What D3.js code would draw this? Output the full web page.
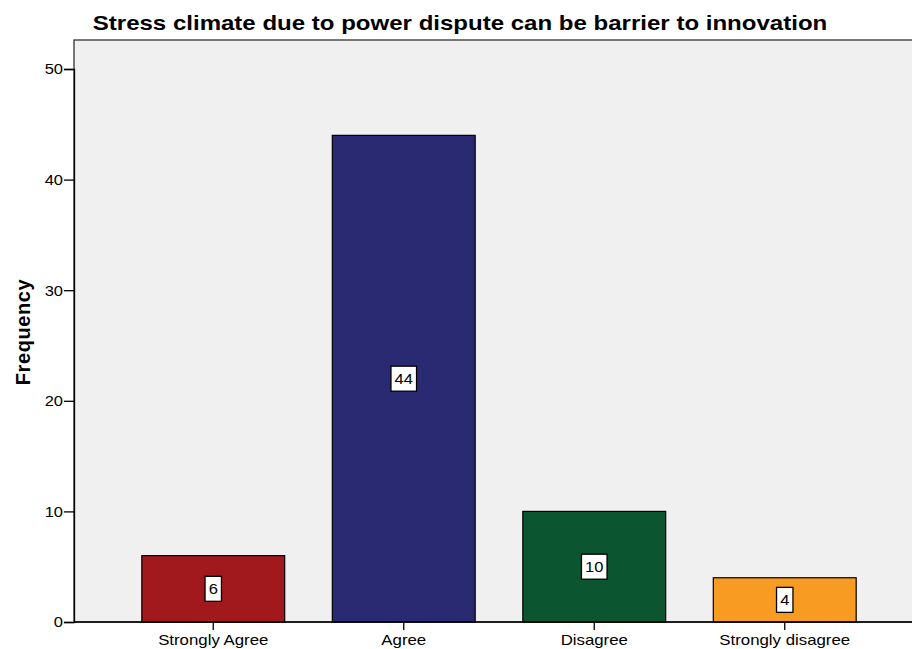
<!DOCTYPE html>
<html>
<head>
<meta charset="utf-8">
<script src="https://cdn.jsdelivr.net/npm/d3@7"></script>
<style>
  html, body { margin: 0; padding: 0; background: #ffffff; }
  svg { display: block; font-family: Arial, "Liberation Sans", sans-serif; }
</style>
</head>
<body>
<svg id="chart" width="912" height="649"></svg>
<script>
// Response categories and their counts
const categories = ["Strongly Agree", "Agree", "Disagree", "Strongly disagree"];
const frequencies = [6, 44, 10, 4];
const barColors = ["#A1191D", "#2A2A73", "#0B5630", "#F89B22"];
const yTicks = [0, 10, 20, 30, 40, 50];
const titleText = "Stress climate due to power dispute can be barrier to innovation";
const yLabelText = "Frequency";

const svg = d3.select("#chart");

// Plot frame
const plot = { left: 74, top: 40, right: 924, bottom: 622 };

const x = d3.scaleBand()
  .domain(categories)
  .range([118, 880])
  .paddingInner(0.25)
  .paddingOuter(0.125);

const y = d3.scaleLinear()
  .domain([0, 50])
  .range([plot.bottom, 69]);

// Plot background
svg.append("rect")
  .attr("x", plot.left)
  .attr("y", plot.top)
  .attr("width", plot.right - plot.left)
  .attr("height", plot.bottom - plot.top)
  .attr("fill", "#F0F0F0")
  .attr("stroke", "#333")
  .attr("stroke-width", 1.3);

// Bars
svg.append("g")
  .selectAll("rect")
  .data(categories)
  .join("rect")
  .attr("x", d => x(d))
  .attr("y", (d, i) => y(frequencies[i]))
  .attr("width", x.bandwidth())
  .attr("height", (d, i) => y(0) - y(frequencies[i]))
  .attr("fill", (d, i) => barColors[i])
  .attr("stroke", "#000")
  .attr("stroke-width", 1.2);

// Y axis
const yAxis = svg.append("g")
  .attr("transform", `translate(${plot.left},0)`)
  .call(d3.axisLeft(y).tickValues(yTicks).tickSize(10).tickPadding(1));
yAxis.select(".domain").attr("stroke", "#000").attr("stroke-width", 1.3);
yAxis.selectAll(".tick line").attr("stroke", "#000").attr("stroke-width", 1.3);
yAxis.selectAll(".tick text")
  .attr("font-size", 15)
  .attr("x", -11 / 1.1)
  .attr("transform", "scale(1.1,1)")
  .attr("fill", "#000")
  .attr("font-family", "Arial, 'Liberation Sans', sans-serif");

// X axis
const xAxis = svg.append("g")
  .attr("transform", `translate(0,${plot.bottom})`)
  .call(d3.axisBottom(x).tickSize(8).tickPadding(5).tickSizeOuter(0));
xAxis.select(".domain")
  .attr("d", `M${plot.left},0H${plot.right}`)
  .attr("stroke", "#000").attr("stroke-width", 1.3);
xAxis.selectAll(".tick line").attr("stroke", "#000").attr("stroke-width", 1.3);
xAxis.selectAll(".tick text")
  .attr("font-size", 14.5)
  .attr("transform", "scale(1.16,1)")
  .attr("fill", "#000")
  .attr("font-family", "Arial, 'Liberation Sans', sans-serif");

// Value labels in boxes at mid-height of each bar
const labels = svg.append("g")
  .selectAll("g")
  .data(categories)
  .join("g")
  .attr("transform", (d, i) =>
    `translate(${x(d) + x.bandwidth() / 2},${y(frequencies[i] / 2)})`);

labels.append("text")
  .attr("text-anchor", "middle")
  .attr("dy", "0.36em")
  .attr("font-size", 15)
  .attr("transform", "scale(1.1,1)")
  .attr("fill", "#000")
  .text((d, i) => frequencies[i]);

labels.each(function () {
  const g = d3.select(this);
  const bb = g.select("text").node().getBBox();
  const w = bb.width * 1.1 + 7;
  g.insert("rect", "text")
    .attr("x", -w / 2)
    .attr("y", -12.5)
    .attr("width", w)
    .attr("height", 25)
    .attr("fill", "#fff")
    .attr("stroke", "#000")
    .attr("stroke-width", 1.3);
});

// Title
svg.append("text")
  .attr("transform", "translate(460,30) scale(1.145,1)")
  .attr("text-anchor", "middle")
  .attr("font-size", 21)
  .attr("font-weight", "bold")
  .attr("fill", "#000")
  .text(titleText);

// Y axis title
svg.append("text")
  .attr("transform", "translate(30,332) rotate(-90)")
  .attr("text-anchor", "middle")
  .attr("font-size", 20)
  .attr("font-weight", "bold")
  .attr("letter-spacing", 0.6)
  .attr("fill", "#000")
  .text(yLabelText);
</script>
</body>
</html>
